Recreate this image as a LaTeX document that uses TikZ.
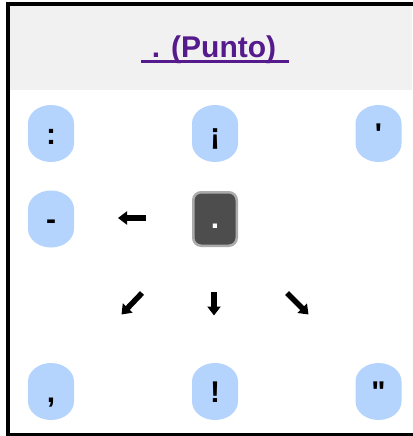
\documentclass[tikz,border=0pt]{standalone}
\usepackage{fontspec}
\setmainfont{Liberation Sans}[Ligatures=TeXOff]
\usetikzlibrary{arrows.meta,calc}
\definecolor{pillblue}{HTML}{B4D4FE}
\definecolor{headgrey}{HTML}{F1F1F1}
\definecolor{linkpurple}{HTML}{551A8B}
\definecolor{darkbox}{HTML}{4D4D4D}
\definecolor{boxedge}{HTML}{ABABAB}
\tikzset{
  pillspot/.style={draw=none, fill=none, minimum width=46pt, minimum height=57pt, inner sep=0pt},
  curbox/.style={fill=darkbox, draw=boxedge, line width=2.5pt, rounded corners=8pt, minimum width=43.5pt, minimum height=53.5pt, inner sep=0pt},
  glyph/.style={anchor=base, inner sep=0pt, font=\fontsize{30}{36}\selectfont\bfseries},
  heavyarrow/.style={line width=5.5pt, -{Triangle[length=9pt,width=13pt]}},
}
% #1 name, #2 position, #3 text
\newcommand\mkpill[3]{%
  \node[pillspot] (#1) at (#2) {};
  \fill[pillblue] ($(#1.center)+(-23,-10)$)
     arc[start angle=180, end angle=360, x radius=23, y radius=18.5]
     -- ($(#1.center)+(23,10)$)
     arc[start angle=0, end angle=180, x radius=23, y radius=18.5]
     -- cycle;
  \node[glyph] at ($(#1.center)+(0,10.5)$) {#3};
}
\begin{document}
\begin{tikzpicture}[x=1pt,y=-1pt]
\useasboundingbox (0,0) rectangle (412,436);
% header
\fill[headgrey] (10,6) rectangle (412,90);
% frame (open on the right)
\draw[line width=4pt] (413,4) -- (8,4) -- (8,434.5) -- (413,434.5);
% title
\node[glyph, text=linkpurple] (title) at (214,57) {. (Punto)};
\draw[linkpurple, line width=2.2pt] (141,61.5) -- (289,61.5);
% row 1
\mkpill{colon}{51,133.5}{:}
\mkpill{inv}{215,133.5}{¡}
\mkpill{apos}{378.5,133.5}{'}
% row 2
\mkpill{dash}{51,219}{-}
\node[curbox] (dot) at (215,219) {};
\node[glyph, text=white] at ($(dot.center)+(0,9.5)$) {.};
% row 4
\mkpill{comma}{51,391.5}{,}
\mkpill{excl}{215,391.5}{!}
\mkpill{quot}{378.5,391.5}{"}
% arrows
\coordinate (wS) at (146,218);
\coordinate (wE) at (118,218);
\coordinate (sS) at (214,292);
\coordinate (sE) at (214,315.5);
\coordinate (swS) at (142,293);
\coordinate (swE) at (121.5,314.5);
\coordinate (seS) at (287,293);
\coordinate (seE) at (308.5,314.5);
\draw[heavyarrow] (wS) -- (wE);
\draw[heavyarrow] (sS) -- (sE);
\draw[heavyarrow] (swS) -- (swE);
\draw[heavyarrow] (seS) -- (seE);
\end{tikzpicture}
\end{document}
